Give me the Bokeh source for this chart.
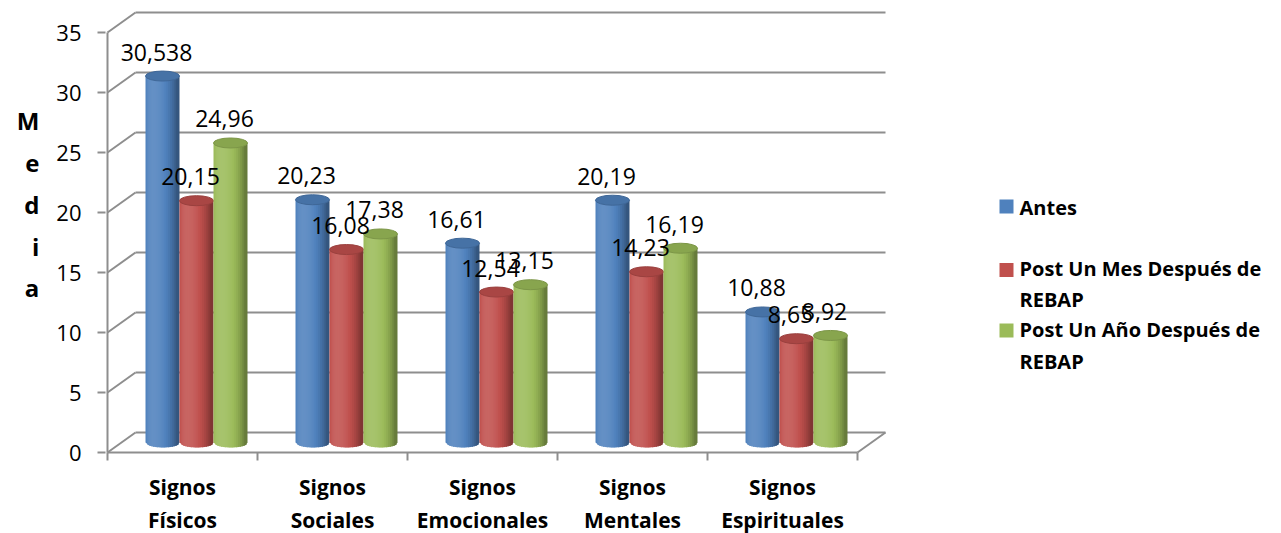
import numpy as np
from bokeh.plotting import figure
from bokeh.models import Range1d, FixedTicker
from bokeh.core.properties import value
from bokeh.embed import file_html
from bokeh.resources import INLINE

# ---- data -------------------------------------------------------------
categories = ["Signos\nFísicos", "Signos\nSociales", "Signos\nEmocionales",
              "Signos\nMentales", "Signos\nEspirituales"]
series_labels = ["Antes", "Post Un Mes Después de\nREBAP", "Post Un Año Después de\nREBAP"]
antes = [30.538, 20.23, 16.61, 20.19, 10.88]
post_un_mes = [20.15, 16.08, 12.54, 14.23, 8.65]
post_un_ano = [24.96, 17.38, 13.15, 16.19, 8.92]
y_ticks = [0, 5, 10, 15, 20, 25, 30, 35]
series_colors = ["#4F81BD", "#C0504D", "#9BBB59"]
axis_title = "Media"

series_values = [antes, post_un_mes, post_un_ano]

# ---- layout -----------------------------------------------------------
W, H = 1281, 533
ORIGIN_X, ORIGIN_Y = 107, 452      # canvas pixel of the front (x=0, y=0) corner
PX_PER_CAT = 150                   # pixels per category slot
PX_PER_UNIT = 12                   # pixels per unit of "Media"
FRAME_LEFT = 105
GRID = "#8E8E8E"
FONT = "Open Sans"


def data_x(px):
    return (px - ORIGIN_X) / PX_PER_CAT


def data_y(py):
    return (ORIGIN_Y - py) / PX_PER_UNIT


# 3-D depth of the box: back wall is shifted right and up
DX = 28 / PX_PER_CAT
DY = 20 / PX_PER_UNIT
BAR_W = 34 / PX_PER_CAT
CAP_H = 10 / PX_PER_UNIT

p = figure(width=W, height=H, output_backend="svg", toolbar_location=None,
           x_range=Range1d(data_x(FRAME_LEFT), data_x(W)),
           y_range=Range1d(data_y(H), data_y(0)),
           min_border_left=FRAME_LEFT, min_border_right=0,
           min_border_top=0, min_border_bottom=0,
           x_axis_location=None)
p.outline_line_color = None
p.grid.visible = False
p.background_fill_color = "white"
p.border_fill_color = "white"

yax = p.yaxis[0]
yax.ticker = FixedTicker(ticks=y_ticks, minor_ticks=[])
yax.axis_line_color = None
yax.major_tick_out = 8
yax.major_tick_in = 0
yax.major_tick_line_color = GRID
yax.major_tick_line_width = 2
yax.minor_tick_line_color = None
yax.major_label_text_font = FONT
yax.major_label_text_font_size = "22px"
yax.major_label_text_color = "black"
yax.major_label_standoff = 16

# axis title: letters stacked one per line, kept upright; blank lines below
# lift the block towards the upper part of the value axis
try:
    yax.axis_label_orientation = "horizontal"
    yax.axis_label = "\n".join(axis_title) + "\n \n \n "
    yax.axis_label_text_font = FONT
    yax.axis_label_text_font_style = "bold"
    yax.axis_label_text_font_size = "24px"
    yax.axis_label_text_color = "black"
    yax.axis_label_text_line_height = 1.27
    yax.axis_label_standoff = 14
except AttributeError:
    pass

# ---- walls and floor --------------------------------------------------
n = len(categories)
yt = np.array(y_ticks, dtype=float)
line_kw = dict(line_color=GRID, line_width=2)
# side wall diagonals
p.segment(x0=np.zeros_like(yt), y0=yt, x1=np.full_like(yt, DX), y1=yt + DY, **line_kw)
# back wall gridlines
p.segment(x0=np.full_like(yt, DX), y0=yt + DY, x1=np.full_like(yt, n + DX), y1=yt + DY, **line_kw)
# front value axis, front floor edge and right floor edge
p.segment(x0=[0, 0, n], y0=[0, 0, 0], x1=[0, n, n + DX], y1=[yt[-1], 0, DY], **line_kw)
# category tick marks
p.segment(x0=np.arange(n + 1), y0=np.zeros(n + 1), x1=np.arange(n + 1),
          y1=np.full(n + 1, -8 / PX_PER_UNIT), **line_kw)

# category labels
p.text(x=np.arange(n) + 0.5, y=np.full(n, data_y(503)), text=categories,
       text_font=value(FONT), text_font_style="bold", text_font_size="21px",
       text_align="center", text_baseline="middle", text_line_height=1.17,
       text_color="black")


# ---- cylinders --------------------------------------------------------
def shade(hex_color, f):
    rgb = [int(hex_color[i:i + 2], 16) for i in (1, 3, 5)]
    if f <= 1:
        out = [c * f for c in rgb]
    else:
        out = [c + (255 - c) * (f - 1) for c in rgb]
    return "#" + "".join(f"{int(round(min(255, max(0, c)))):02x}" for c in out)


N_STRIPS = 18
edges = np.linspace(-1, 1, N_STRIPS + 1)
t = (edges[:-1] + edges[1:]) / 2
theta = np.arcsin(t)
light = 0.66 + 0.46 * np.clip(np.cos(theta + 0.55), 0, None)
# depth of the rounded bottom below the base line at each band edge
sag = CAP_H / 2 * np.sqrt(np.clip(1 - edges ** 2, 0, None))
OVERLAP = 1.0 / PX_PER_CAT

base_y = DY / 2
label_x, label_y, label_txt = [], [], []
for s, (vals, col) in enumerate(zip(series_values, series_colors)):
    vals = np.array(vals, dtype=float)
    cx = np.arange(n) + 0.5 + DX / 2 + (s - 1) * BAR_W
    # body: one vertical band per shade, with a curved lower edge; each band
    # reaches slightly into the next one so no white seam shows between them
    xs, ys, cols = [], [], []
    for i in range(n):
        top = vals[i] + base_y
        for k in range(N_STRIPS):
            xl = cx[i] + edges[k] * BAR_W / 2
            xr = cx[i] + edges[k + 1] * BAR_W / 2
            ov = OVERLAP if k < N_STRIPS - 1 else 0
            xs.append([xl, xr + ov, xr + ov, xl])
            ys.append([base_y - sag[k], base_y - sag[k + 1], top, top])
            cols.append(shade(col, light[k]))
    p.patches(xs=xs, ys=ys, fill_color=cols, line_color=None)
    # top cap
    p.ellipse(x=cx, y=vals + base_y, width=BAR_W, height=CAP_H,
              fill_color=shade(col, 0.88), line_color=shade(col, 0.8), line_width=1)
    label_x.extend(cx - 6 / PX_PER_CAT)
    label_y.extend(vals + base_y + 24 / PX_PER_UNIT)
    label_txt.extend([f"{v:g}".replace(".", ",") for v in vals])

p.text(x=label_x, y=label_y, text=label_txt, text_font=value(FONT),
       text_font_size="23px", text_align="center", text_baseline="middle",
       text_color="black")

# ---- legend -----------------------------------------------------------
p.scatter(x=[data_x(1006)] * 3, y=[data_y(206), data_y(269.5), data_y(330)],
          marker="square", size=14, fill_color=series_colors, line_color=None)
p.text(x=[data_x(1019)] * 3, y=[data_y(207), data_y(283.5), data_y(345)],
       text=series_labels, text_font=value(FONT), text_font_style="bold",
       text_font_size="20px", text_align="left", text_baseline="middle",
       text_line_height=1.15, text_color="black")

open("out.html", "w").write(file_html(p, INLINE))
